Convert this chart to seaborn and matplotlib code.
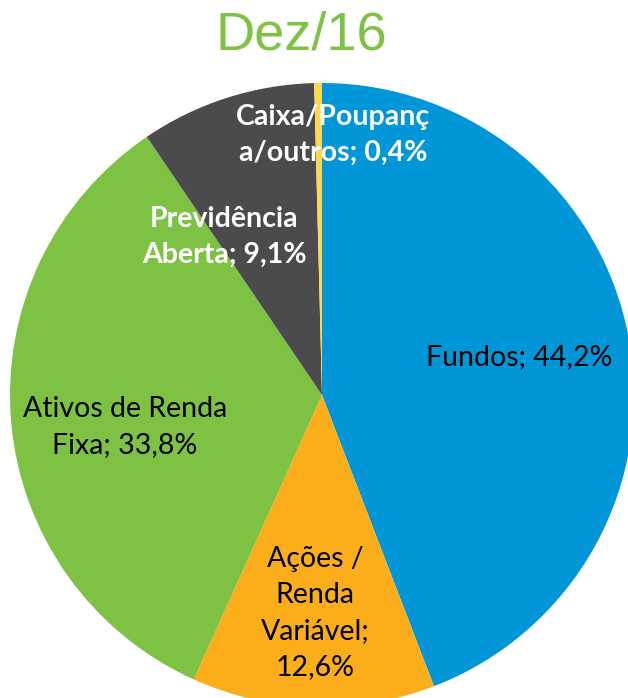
import numpy as np
import matplotlib
matplotlib.use("Agg")
import matplotlib.pyplot as plt
import seaborn as sns

# data
categories = ["Fundos", "Ações /\nRenda\nVariável", "Ativos de Renda\nFixa",
              "Previdência\nAberta", "Caixa/Poupanç\na/outros"]
shares = [44.2, 12.6, 33.8, 9.1, 0.4]
colors = ["#0096D7", "#FBAE19", "#7DC243", "#4B4B4D", "#FFD84E"]
label_colors = ["black", "black", "black", "white", "white"]
label_weights = ["normal", "normal", "normal", "bold", "bold"]

sns.set_theme(style="white")
plt.rcParams["font.family"] = ["Lato", "DejaVu Sans"]

fig = plt.figure(figsize=(6.28, 6.98), dpi=100)
# pie centre at (322, 395) px, radius 312 px
ax = fig.add_axes([10 / 628, (303 - 312) / 698, 624 / 628, 624 / 698])
ax.pie(shares, colors=sns.color_palette(colors), startangle=90,
       counterclock=False, radius=1.0, wedgeprops=dict(linewidth=0))
ax.set_xlim(-1, 1)
ax.set_ylim(-1, 1)
ax.axis("off")

# label placement (polar: angle in degrees, radius fraction)
label_pos = [(10.9, 0.645), (-91.8, 0.70), (189.2, 0.64), (121.8, 0.596), (87.6, 0.835)]
for name, val, (ang, r), c, w in zip(categories, shares, label_pos, label_colors, label_weights):
    sep = ";\n" if name.startswith("Ações") else "; "
    txt = f"{name}{sep}{val:.1f}%".replace(".", ",")
    a = np.deg2rad(ang)
    ax.text(r * np.cos(a), r * np.sin(a), txt, ha="center", va="center",
            fontsize=20.5, color=c, fontweight=w, linespacing=1.48)

fig.text(301 / 628, 1 - 36 / 698, "Dez/16", ha="center", va="center",
         fontsize=39, color="#7DC243", family=["Liberation Sans", "DejaVu Sans"])

fig.savefig("out.png", dpi=100)
